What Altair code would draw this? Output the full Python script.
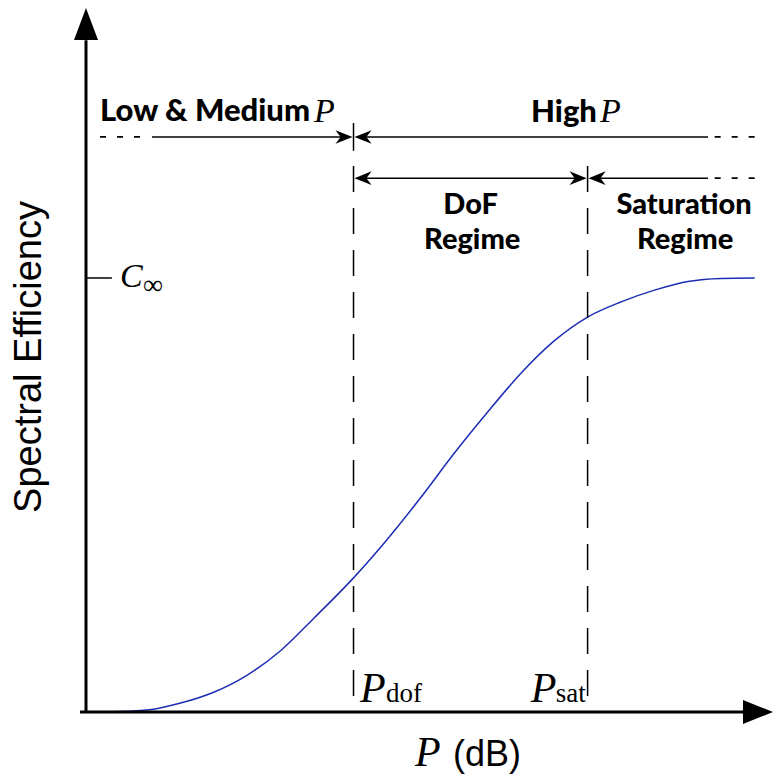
import altair as alt
import pandas as pd

# ---- data ----
P_dB = [0, 2.0, 3.8, 5.6, 7.6, 9.6, 11.6, 13.6, 16.0, 18.0, 20.0, 22.0, 24.0,
        26.0, 28.0, 30.0, 32.0, 34.0, 36.0, 38.0, 40.0]
SE = [0, 0.01, 0.05, 0.20, 0.45, 0.84, 1.40, 2.15, 3.09, 3.97, 4.93, 5.95, 6.90,
      7.80, 8.55, 9.10, 9.45, 9.72, 9.92, 9.99, 10.0]
P_dof = 16.0
P_sat = 30.0
C_inf = 10.0

X_MIN, X_MAX = -4.665, 41.089
Y_MIN, Y_MAX = -1.452, 16.221

xs = alt.Scale(domain=[X_MIN, X_MAX], nice=False, zero=False)
ys = alt.Scale(domain=[Y_MIN, Y_MAX], nice=False, zero=False)

HAND = "Lato, Roboto, sans-serif"
SERIF = "Liberation Serif, DejaVu Serif, serif"
SANS = "Liberation Sans, Arial, sans-serif"
BLUE = "#1c2db5"


def xy():
    return dict(x=alt.X("x:Q", scale=xs, axis=None), y=alt.Y("y:Q", scale=ys, axis=None))


def rules(df, **mk):
    enc = xy()
    if "x2" in df:
        enc["x2"] = "x2:Q"
    if "y2" in df:
        enc["y2"] = "y2:Q"
    return alt.Chart(pd.DataFrame(df)).mark_rule(color="black", **mk).encode(**enc)


def heads(df, shape, size):
    return alt.Chart(pd.DataFrame(df)).mark_point(
        shape=shape, size=size, filled=True, color="black", opacity=1, strokeWidth=0
    ).encode(**xy())


def texts(df, **mk):
    return alt.Chart(pd.DataFrame(df)).mark_text(color="black", **mk).encode(text="t:N", **xy())


RIGHT = "M0,0L-2,-0.8L-1.4,0L-2,0.8Z"
LEFT = "M0,0L2,-0.8L1.4,0L2,0.8Z"
UP_BIG = "M0,0L0.75,2L-0.75,2Z"
RIGHT_BIG = "M0,0L-2,-0.8L-2,0.8Z"

row1, row2 = 13.25, 12.30

curve = alt.Chart(pd.DataFrame({"x": P_dB, "y": SE})).mark_line(
    color=BLUE, strokeWidth=1.5, interpolate="monotone"
).encode(**xy())

axes = rules({"x": [0, -0.36], "x2": [0, 39.3], "y": [0, 0], "y2": [15.48, 0]},
             strokeWidth=3)
axis_up = heads({"x": [0], "y": [Y_MAX]}, UP_BIG, 1024)
axis_right = heads({"x": [X_MAX], "y": [0]}, RIGHT_BIG, 900)

cinf_tick = rules({"x": [0], "x2": [1.55], "y": [C_inf]}, strokeWidth=1.5)

dashed = rules({"x": [P_dof, P_sat], "y": [12.58, 12.58], "y2": [0.16, 0.16]},
               strokeWidth=1.5, strokeDash=[26, 16])
dof_top = rules({"x": [P_dof], "y": [13.57], "y2": [12.93]}, strokeWidth=1.5)

solid_arrows = rules({"x": [3.95, P_dof + 0.2, P_dof + 0.2, P_sat + 0.2],
                      "x2": [P_dof - 0.2, 37.2, P_sat - 0.2, 37.2],
                      "y": [row1, row1, row2, row2]}, strokeWidth=1.5)
dotted = rules({"x": [0.84, 37.6, 37.6], "x2": [3.53, 40.3, 40.3],
                "y": [row1, row1, row2]}, strokeWidth=1.8, strokeDash=[6, 11])
right_heads = heads({"x": [P_dof - 0.06, P_sat - 0.06], "y": [row1, row2]}, RIGHT, 289)
left_heads = heads({"x": [P_dof + 0.06, P_dof + 0.06, P_sat + 0.06],
                    "y": [row1, row2, row2]}, LEFT, 289)

hand_right = texts({"t": ["Low & Medium", "High"], "x": [13.4, 30.56], "y": [13.62, 13.6]},
                   font=HAND, fontSize=31, fontWeight=900, align="right",
                   baseline="alphabetic")
hand_center = texts({"t": ["DoF", "Regime", "Saturation", "Regime"],
                     "x": [23.0, 23.1, 35.77, 35.83],
                     "y": [11.47, 10.66, 11.47, 10.66]},
                    font=HAND, fontSize=29, fontWeight=900, align="center",
                    baseline="alphabetic")
italic_P_top = texts({"t": ["P", "P"], "x": [13.64, 30.74], "y": [13.6, 13.6]},
                     font=SERIF, fontSize=34, fontStyle="italic", align="left",
                     baseline="alphabetic")
c_label = texts({"t": ["C"], "x": [2.03], "y": [9.79]}, font=SERIF, fontSize=34,
                fontStyle="italic", align="left", baseline="alphabetic")
inf_label = texts({"t": ["∞"], "x": [3.41], "y": [9.62]}, font=SERIF, fontSize=28,
                  align="left", baseline="alphabetic")
p_marks = texts({"t": ["P", "P"], "x": [16.39, 26.6], "y": [0.23, 0.23]},
                font=SERIF, fontSize=42, fontStyle="italic", align="left",
                baseline="alphabetic")
p_subs = texts({"t": ["dof", "sat"], "x": [17.95, 28.1], "y": [0.23, 0.23]},
               font=SERIF, fontSize=27, align="left", baseline="alphabetic")
xt_P = texts({"t": ["P"], "x": [19.68], "y": [-1.25]}, font=SERIF, fontSize=42,
             fontStyle="italic", align="left", baseline="alphabetic")
xt_dB = texts({"t": ["(dB)"], "x": [21.95], "y": [-1.25]}, font=SANS, fontSize=36,
              align="left", baseline="alphabetic")
yt = texts({"t": ["Spectral Efficiency"], "x": [-3.35], "y": [8.18]}, font=SANS,
           fontSize=38, angle=270, align="center", baseline="middle")

chart = alt.layer(
    curve, axes, axis_up, axis_right, cinf_tick, dashed, dof_top, solid_arrows, dotted,
    right_heads, left_heads, hand_right, hand_center, italic_P_top, c_label, inf_label,
    p_marks, p_subs, xt_P, xt_dB, yt
).properties(
    width=765, height=767, padding=0, autosize=alt.AutoSizeParams(type="none")
).configure_view(strokeWidth=0)

chart.save("out.html", embed_options={"renderer": "svg", "actions": False})
